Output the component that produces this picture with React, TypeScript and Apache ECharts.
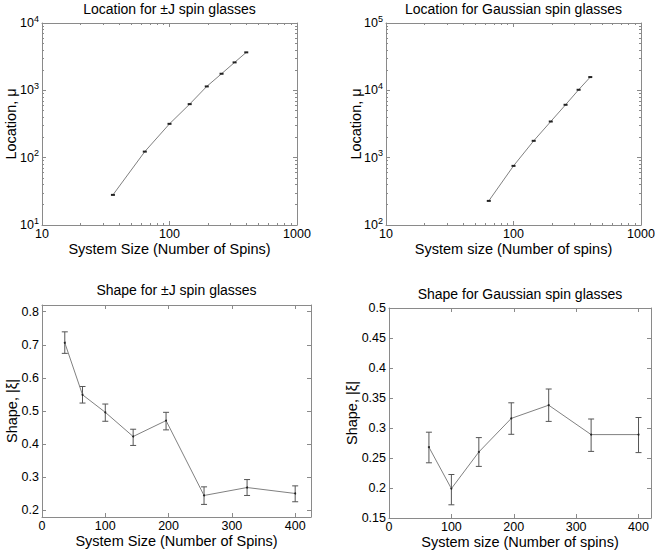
import React, { useEffect, useRef } from "react";
import * as echarts from "echarts";

// ---------- data ----------
const sizesJ = [36, 64, 100, 144, 196, 256, 324, 400];
const locationJ = [28, 123, 318, 624, 1143, 1763, 2600, 3664];

const sizesG = [64, 100, 144, 196, 256, 324, 400];
const locationG = [228, 755, 1778, 3443, 6100, 10190, 15740];

const shapeJ = [0.706, 0.549, 0.496, 0.423, 0.471, 0.245, 0.269, 0.251];
const shapeJLow = [0.674, 0.524, 0.469, 0.396, 0.443, 0.218, 0.245, 0.226];
const shapeJHigh = [0.739, 0.574, 0.521, 0.445, 0.496, 0.271, 0.293, 0.274];

const shapeG = [0.268, 0.199, 0.26, 0.316, 0.338, 0.289, 0.289];
const shapeGLow = [0.242, 0.172, 0.236, 0.2895, 0.311, 0.261, 0.259];
const shapeGHigh = [0.293, 0.2225, 0.284, 0.342, 0.365, 0.315, 0.3175];

// tick labels
const logSizeTicks = [10, 100, 1000];
const logLocTicksJ = [10, 100, 1000, 10000];
const logLocTicksG = [100, 1000, 10000, 100000];
const linSizeTicks = [0, 100, 200, 300, 400];
const shapeJTicks = [0.2, 0.3, 0.4, 0.5, 0.6, 0.7, 0.8];
const shapeGTicks = [0.15, 0.2, 0.25, 0.3, 0.35, 0.4, 0.45, 0.5];

const titles = [
  "Location for \u00B1J spin glasses",
  "Location for Gaussian spin glasses",
  "Shape for \u00B1J spin glasses",
  "Shape for Gaussian spin glasses",
];
const xNames = [
  "System Size (Number of Spins)",
  "System size (Number of spins)",
  "System Size (Number of Spins)",
  "System size (Number of spins)",
];
const yNameLoc = "Location, \u03BC";
const yNameShape = "Shape, |\u03BE|";

// ---------- styling ----------
const FONT = "'Liberation Sans', Arial, Helvetica, sans-serif";
const AXIS_COLOR = "#8a8a8a";
const LINE_COLOR = "#808080";
const BAR_COLOR = "#555555";
const LABEL_SIZE = 12.5;

const grids = [
  { left: 42, top: 23, width: 255, height: 202 },
  { left: 386, top: 23, width: 255, height: 202 },
  { left: 42, top: 305, width: 269, height: 212 },
  { left: 389, top: 308, width: 262, height: 210 },
];

const lg = (v: number) => Math.log10(v);
const minorLog = (decades: number[]) =>
  decades.flatMap((d) => [2, 3, 4, 5, 6, 7, 8, 9].map((k) => lg(k * d)));

type AxisSpec = {
  min: number;
  max: number;
  major: number[];
  minor?: number[];
  fmt: (v: number) => string;
  name: string;
  nameGap: number;
  rich?: any;
};

function buildAxes(dim: "x" | "y", gridIndex: number, s: AxisSpec, list: any[]) {
  const mainPos = dim === "x" ? "bottom" : "left";
  const mirrorPos = dim === "x" ? "top" : "right";
  const base = {
    type: "value",
    gridIndex,
    min: s.min,
    max: s.max,
    splitLine: { show: false },
    axisPointer: { show: false },
    silent: true,
  };
  const line = { show: true, onZero: false, lineStyle: { color: AXIS_COLOR, width: 1 } };
  const tick = (vals: number[], len: number) => ({
    show: true,
    inside: true,
    length: len,
    customValues: vals,
    lineStyle: { color: AXIS_COLOR, width: 1 },
  });
  const mainIndex = list.length;
  list.push({
    ...base,
    position: mainPos,
    axisLine: line,
    axisTick: tick(s.major, 4),
    axisLabel: {
      show: true,
      customValues: s.major,
      formatter: s.fmt,
      margin: dim === "x" ? 2 : 3,
      color: "#000",
      fontSize: LABEL_SIZE,
      fontFamily: FONT,
      rich: s.rich,
      showMinLabel: true,
      showMaxLabel: true,
      hideOverlap: false,
    },
    name: s.name,
    nameLocation: "middle",
    nameGap: s.nameGap,
    nameMoveOverlap: false,
    nameTextStyle: { color: "#000", fontSize: 14.5, fontFamily: FONT },
  });
  list.push({
    ...base,
    position: mirrorPos,
    axisLine: line,
    axisTick: tick(s.major, 4),
    axisLabel: { show: false },
  });
  if (s.minor) {
    [mainPos, mirrorPos].forEach((pos) =>
      list.push({
        ...base,
        position: pos,
        axisLine: { show: false, onZero: false },
        axisTick: tick(s.minor as number[], 2),
        axisLabel: { show: false },
      })
    );
  }
  return mainIndex;
}

const supRich = {
  b: { fontSize: LABEL_SIZE, fontFamily: FONT, color: "#000", lineHeight: 18 },
  s: { fontSize: 9, fontFamily: FONT, color: "#000", lineHeight: 9, verticalAlign: "top" },
};
const supFmt = (v: number) => `{b|10}{s|${Math.round(v)}}`;
const powFmt = (v: number) => String(Math.round(Math.pow(10, v)));
const numFmt = (v: number) => String(v);

function errorBarSeries(xAxisIndex: number, yAxisIndex: number, xs: number[], lo: number[], hi: number[]) {
  return {
    type: "custom",
    xAxisIndex,
    yAxisIndex,
    silent: true,
    encode: { x: 0, y: [1, 2] },
    data: xs.map((x, i) => [x, lo[i], hi[i]]),
    renderItem: (params: any, api: any) => {
      const x = api.value(0);
      const pLo = api.coord([x, api.value(1)]);
      const pHi = api.coord([x, api.value(2)]);
      const w = 3;
      const style = { stroke: BAR_COLOR, lineWidth: 1 };
      return {
        type: "group",
        children: [
          { type: "line", shape: { x1: pLo[0], y1: pLo[1], x2: pHi[0], y2: pHi[1] }, style },
          { type: "line", shape: { x1: pLo[0] - w, y1: pLo[1], x2: pLo[0] + w, y2: pLo[1] }, style },
          { type: "line", shape: { x1: pHi[0] - w, y1: pHi[1], x2: pHi[0] + w, y2: pHi[1] }, style },
        ],
      };
    },
  };
}

export default function App() {
  const ref = useRef<HTMLDivElement>(null);

  useEffect(() => {
    if (!ref.current) return;
    const chart = echarts.init(ref.current, null, { renderer: "svg" });

    const xAxes: any[] = [];
    const yAxes: any[] = [];

    // Panel 0: Location +-J (log-log)
    const x0 = buildAxes("x", 0, {
      min: 1, max: 3, major: logSizeTicks.map(lg), minor: minorLog([10, 100]),
      fmt: powFmt, name: xNames[0], nameGap: 16,
    }, xAxes);
    const y0 = buildAxes("y", 0, {
      min: 1, max: 4, major: logLocTicksJ.map(lg), minor: minorLog([10, 100, 1000]),
      fmt: supFmt, rich: supRich, name: yNameLoc, nameGap: 24,
    }, yAxes);

    // Panel 1: Location Gaussian (log-log)
    const x1 = buildAxes("x", 1, {
      min: 1, max: 3, major: logSizeTicks.map(lg), minor: minorLog([10, 100]),
      fmt: powFmt, name: xNames[1], nameGap: 16,
    }, xAxes);
    const y1 = buildAxes("y", 1, {
      min: 2, max: 5, major: logLocTicksG.map(lg), minor: minorLog([100, 1000, 10000]),
      fmt: supFmt, rich: supRich, name: yNameLoc, nameGap: 23,
    }, yAxes);

    // Panel 2: Shape +-J
    const x2 = buildAxes("x", 2, {
      min: 0, max: 425, major: linSizeTicks, fmt: numFmt, name: xNames[2], nameGap: 16,
    }, xAxes);
    const y2 = buildAxes("y", 2, {
      min: 0.18, max: 0.82, major: shapeJTicks, fmt: numFmt, name: yNameShape, nameGap: 23,
    }, yAxes);

    // Panel 3: Shape Gaussian
    const x3 = buildAxes("x", 3, {
      min: 0, max: 420, major: linSizeTicks, fmt: numFmt, name: xNames[3], nameGap: 16,
    }, xAxes);
    const y3 = buildAxes("y", 3, {
      min: 0.15, max: 0.5, major: shapeGTicks, fmt: numFmt, name: yNameShape, nameGap: 30,
    }, yAxes);

    const titleCenters = [
      { x: 169.5, top: 2 },
      { x: 513.5, top: 2 },
      { x: 176.5, top: 283 },
      { x: 520, top: 287 },
    ];

    const option: any = {
      animation: false,
      backgroundColor: "#fff",
      title: titles.map((t, i) => ({
        text: t,
        left: titleCenters[i].x,
        top: titleCenters[i].top,
        textAlign: "center",
        padding: 0,
        textStyle: { fontSize: 14, fontWeight: "normal", color: "#000", fontFamily: FONT },
      })),
      grid: grids.map((g) => ({ ...g, containLabel: false, outerBoundsMode: "none" })),
      xAxis: xAxes,
      yAxis: yAxes,
      series: [
        {
          type: "line",
          xAxisIndex: x0,
          yAxisIndex: y0,
          data: sizesJ.map((s, i) => [lg(s), lg(locationJ[i])]),
          symbol: "rect",
          symbolSize: [4, 2],
          itemStyle: { color: "#222" },
          lineStyle: { color: LINE_COLOR, width: 1 },
          silent: true,
        },
        {
          type: "line",
          xAxisIndex: x1,
          yAxisIndex: y1,
          data: sizesG.map((s, i) => [lg(s), lg(locationG[i])]),
          symbol: "rect",
          symbolSize: [4, 2],
          itemStyle: { color: "#222" },
          lineStyle: { color: LINE_COLOR, width: 1 },
          silent: true,
        },
        errorBarSeries(x2, y2, sizesJ, shapeJLow, shapeJHigh),
        {
          type: "line",
          xAxisIndex: x2,
          yAxisIndex: y2,
          data: sizesJ.map((s, i) => [s, shapeJ[i]]),
          symbol: "circle",
          symbolSize: 2,
          itemStyle: { color: "#222" },
          lineStyle: { color: LINE_COLOR, width: 1 },
          silent: true,
        },
        errorBarSeries(x3, y3, sizesG, shapeGLow, shapeGHigh),
        {
          type: "line",
          xAxisIndex: x3,
          yAxisIndex: y3,
          data: sizesG.map((s, i) => [s, shapeG[i]]),
          symbol: "circle",
          symbolSize: 2,
          itemStyle: { color: "#222" },
          lineStyle: { color: LINE_COLOR, width: 1 },
          silent: true,
        },
      ],
    };

    chart.setOption(option);
    return () => chart.dispose();
  }, []);

  return (
    <div
      ref={ref}
      style={{ position: "absolute", left: 0, top: 0, width: 655, height: 554, background: "#fff" }}
    />
  );
}
